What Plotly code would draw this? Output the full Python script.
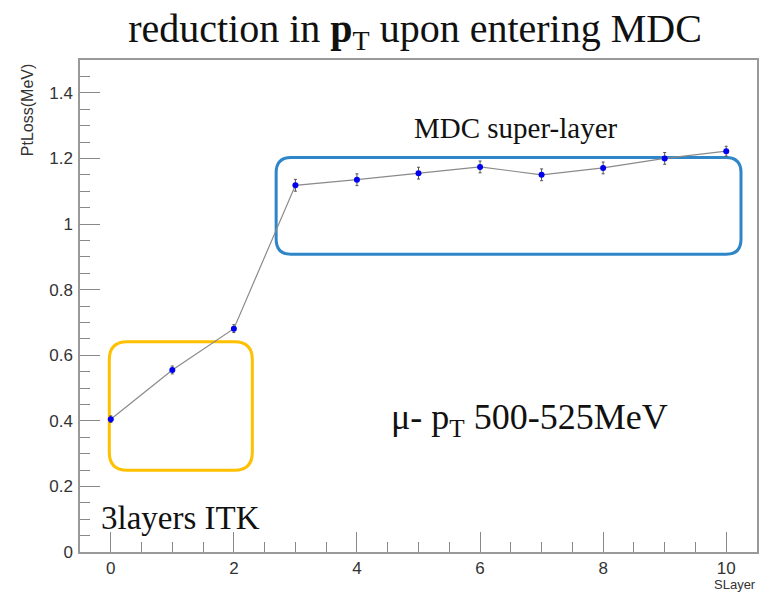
import plotly.graph_objects as go

# Mean pT loss per layer (layers 0-2: ITK, 3-10: MDC super-layers)
layers = [0, 1, 2, 3, 4, 5, 6, 7, 8, 9, 10]
pt_loss = [0.405, 0.555, 0.681, 1.118, 1.135, 1.155, 1.174, 1.150, 1.171, 1.200, 1.222]
pt_loss_err = [0.010, 0.012, 0.012, 0.018, 0.018, 0.018, 0.018, 0.018, 0.018, 0.018, 0.015]

y_tick_vals = [0, 0.2, 0.4, 0.6, 0.8, 1.0, 1.2, 1.4]
y_tick_text = ["0", "0.2", "0.4", "0.6", "0.8", "1", "1.2", "1.4"]
x_tick_vals = [0, 2, 4, 6, 8, 10]
x_tick_text = ["0", "2", "4", "6", "8", "10"]

W, H = 761, 593
M_L, M_R, M_T, M_B = 80, 2, 60, 41
X_RANGE = [-0.5, 10.5]
Y_RANGE = [0, 1.5]
PLOT_W = W - M_L - M_R
PLOT_H = H - M_T - M_B

px_per_x = PLOT_W / (X_RANGE[1] - X_RANGE[0])
px_per_y = PLOT_H / (Y_RANGE[1] - Y_RANGE[0])


def rounded_box(x0, x1, y0, y1, r_px):
    """SVG path of a rounded rectangle in data units, corner radius in pixels."""
    rx = r_px / px_per_x
    ry = r_px / px_per_y
    return (
        f"M {x0 + rx},{y1} L {x1 - rx},{y1} Q {x1},{y1} {x1},{y1 - ry} "
        f"L {x1},{y0 + ry} Q {x1},{y0} {x1 - rx},{y0} "
        f"L {x0 + rx},{y0} Q {x0},{y0} {x0},{y0 + ry} "
        f"L {x0},{y1 - ry} Q {x0},{y1} {x0 + rx},{y1} Z"
    )


fig = go.Figure()
fig.add_trace(
    go.Scatter(
        x=layers,
        y=pt_loss,
        mode="lines+markers",
        line=dict(color="#8a8a8a", width=1.2),
        marker=dict(color="#0000ee", size=6),
        error_y=dict(type="data", array=pt_loss_err, color="#555555",
                     thickness=1, width=1.5),
        showlegend=False,
    )
)

serif = "Liberation Serif, Times New Roman, serif"
sans = "Liberation Sans, Arial, sans-serif"

axis_common = dict(
    ticks="inside",
    ticklen=20,
    tickwidth=1,
    tickcolor="#888888",
    showline=True,
    linecolor="#999999",
    linewidth=1.5,
    mirror=True,
    showgrid=False,
    zeroline=False,
    tickfont=dict(family=sans, size=17, color="#333333"),
)

fig.update_layout(
    width=W,
    height=H,
    margin=dict(l=M_L, r=M_R, t=M_T, b=M_B),
    paper_bgcolor="white",
    plot_bgcolor="white",
    title=dict(
        text="reduction in <b>p</b><sub>T</sub> upon entering MDC",
        x=415 / W, xref="container", xanchor="center",
        y=1 - 28 / H, yref="container", yanchor="middle",
        font=dict(family=serif, size=40, color="#111111"),
    ),
    xaxis=dict(
        range=X_RANGE,
        tickvals=x_tick_vals,
        ticktext=x_tick_text,
        ticklabelstandoff=0,
        minor=dict(dtick=0.5, ticks="inside", ticklen=10, tickcolor="#888888",
                   tickwidth=1, showgrid=False),
        **axis_common,
    ),
    yaxis=dict(
        range=Y_RANGE,
        tickvals=y_tick_vals,
        ticktext=y_tick_text,
        ticklabelstandoff=2,
        minor=dict(dtick=0.05, ticks="inside", ticklen=10, tickcolor="#888888",
                   tickwidth=1, showgrid=False),
        **axis_common,
    ),
)

# Highlight boxes around the ITK layers and the MDC super-layers
fig.add_shape(type="path", xref="x", yref="y",
              path=rounded_box(-0.024, 2.30, 0.249, 0.641, 18),
              line=dict(color="#FFC000", width=3), layer="below")
fig.add_shape(type="path", xref="x", yref="y",
              path=rounded_box(2.687, 10.24, 0.908, 1.203, 15),
              line=dict(color="#2E86C8", width=3), layer="below")

# Labels inside the frame
fig.add_annotation(text="MDC super-layer", x=6.58, y=1.293, xref="x", yref="y",
                   showarrow=False, xanchor="center", yanchor="middle",
                   font=dict(family=serif, size=29, color="#111111"))
fig.add_annotation(text="μ- p<sub>T</sub> 500-525MeV", x=6.80, y=0.405,
                   xref="x", yref="y", showarrow=False,
                   xanchor="center", yanchor="middle",
                   font=dict(family=serif, size=36, color="#111111"))
fig.add_annotation(text="3layers ITK", x=1.14, y=0.103, xref="x", yref="y",
                   showarrow=False, xanchor="center", yanchor="middle",
                   font=dict(family=serif, size=33, color="#111111"))

# Axis titles (ROOT-style placement: y title at the top, x title at the right end)
fig.add_annotation(text="PtLoss(MeV)", textangle=-90,
                   x=(28 - M_L) / PLOT_W, y=1 - (110 - M_T) / PLOT_H,
                   xref="paper", yref="paper", showarrow=False,
                   xanchor="center", yanchor="middle",
                   font=dict(family=sans, size=16, color="#333333"))
fig.add_annotation(text="SLayer", x=1.0, y=-40.5 / PLOT_H,
                   xref="paper", yref="paper", showarrow=False,
                   xanchor="right", yanchor="bottom", borderpad=0,
                   font=dict(family=sans, size=13, color="#333333"))

fig.write_html("out.html")
